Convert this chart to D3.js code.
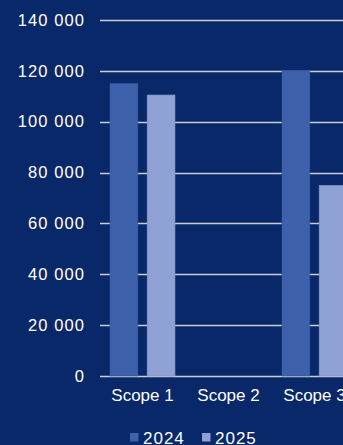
<!DOCTYPE html>
<html lang="en">
<head>
<meta charset="UTF-8">
<title>Emissions by scope</title>
<script src="https://d3js.org/d3.v7.min.js"></script>
<style>
  html, body { margin: 0; padding: 0; background: #08286a; overflow: hidden; }
  svg { display: block; font-family: "Liberation Sans", Arial, sans-serif; }
</style>
</head>
<body>
<svg width="343" height="445"></svg>
<script>
const categories = ["Scope 1", "Scope 2", "Scope 3"];
const years = ["2024", "2025"];
const values2024 = [115000, 0, 120000];
const values2025 = [110500, 0, 75000];
const yTicks = [0, 20000, 40000, 60000, 80000, 100000, 120000, 140000];
const colors = ["#3d62ab", "#8fa1d5"];

const svg = d3.select("svg");
const fmt = v => d3.format(",")(v).replace(/,/g, " ");

const y = d3.scaleLinear().domain([0, 140000]).range([376, 20]);
const x = d3.scaleBand().domain(categories).range([99.5, 357.5]).paddingInner(0).paddingOuter(0);
const inner = d3.scaleBand().domain(years).range([10.5, x.bandwidth() - 10.5]).paddingInner(0.25);

// gridlines
svg.append("g").selectAll("line").data(yTicks).join("line")
  .attr("x1", 100).attr("x2", 343)
  .attr("y1", d => Math.round(y(d)) + 0.5).attr("y2", d => Math.round(y(d)) + 0.5)
  .attr("stroke", "#c9ccd3").attr("stroke-width", 1.5);

// y labels
svg.append("g").selectAll("text").data(yTicks).join("text")
  .attr("x", 85).attr("y", d => y(d)).attr("dy", "0.35em")
  .attr("text-anchor", "end").attr("fill", "#fff")
  .attr("font-size", 16.5).attr("letter-spacing", 1.1)
  .text(d => fmt(d));

// bars
const series = [values2024, values2025];
series.forEach((vals, i) => {
  svg.append("g").selectAll("rect").data(categories).join("rect")
    .attr("x", (c) => x(c) + inner(years[i]))
    .attr("width", inner.bandwidth())
    .attr("y", (c, j) => y(vals[j]))
    .attr("height", (c, j) => y(0) - y(vals[j]))
    .attr("fill", colors[i])
    .attr("stroke", d3.color(colors[i]).darker(0.3)).attr("stroke-width", 0.6);
});

// category labels
svg.append("g").selectAll("text").data(categories).join("text")
  .attr("x", c => x(c) + x.bandwidth() / 2).attr("y", 400.5)
  .attr("text-anchor", "middle").attr("fill", "#fff")
  .attr("font-size", 17)
  .text(d => d);

// legend
const legendX = [130, 202];
years.forEach((yr, i) => {
  svg.append("rect").attr("x", legendX[i]).attr("y", 433).attr("width", 8.5).attr("height", 8.5)
    .attr("fill", colors[i]);
  svg.append("text").attr("x", legendX[i] + 13).attr("y", 443.5)
    .attr("fill", "#fff").attr("font-size", 17).attr("letter-spacing", 1)
    .text(yr);
});
</script>
</body>
</html>
